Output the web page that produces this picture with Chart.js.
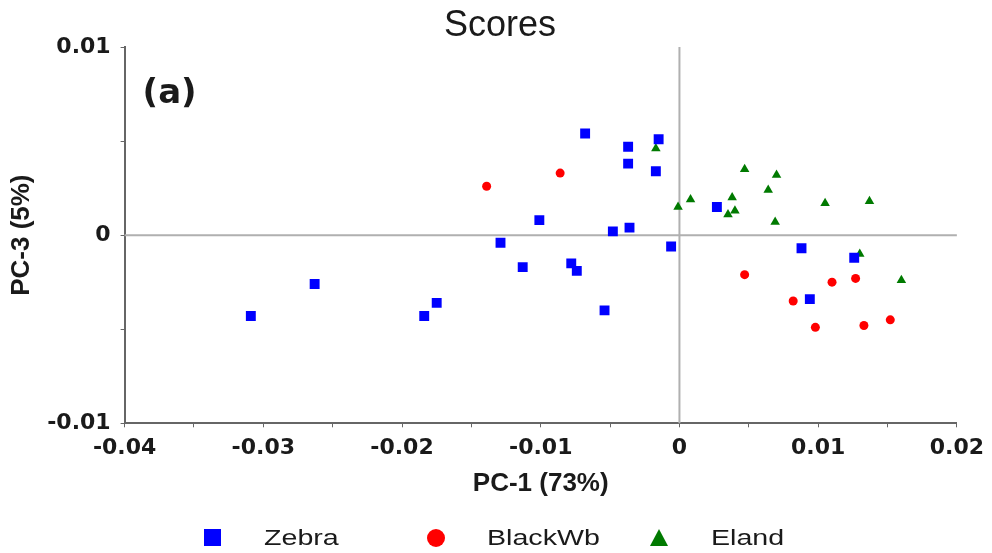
<!DOCTYPE html>
<html>
<head>
<meta charset="utf-8">
<script src="https://cdn.jsdelivr.net/npm/chart.js@4/dist/chart.umd.min.js"></script>
<style>
  html, body { margin: 0; padding: 0; background: #fff; }
  #wrap { position: relative; width: 992px; height: 553px; }
  #legend { position: absolute; left: 0; top: 0; width: 992px; height: 553px; pointer-events: none;
            font-family: 'Liberation Sans', Arial, sans-serif; font-size: 22px; color: #1a1a1a; }
  #legend span { position: absolute; transform: scaleX(1.3); transform-origin: left center; line-height: 25px; }
  .mk { position: absolute; }
</style>
</head>
<body>
<div id="wrap">
  <canvas id="chart" width="992" height="553"></canvas>
  <div id="legend"></div>
</div>
<script>
// Data
const chartTitle = 'Scores';
const seriesNames = ['Zebra', 'BlackWb', 'Eland'];

const zebraX = [-0.0309, -0.0263, -0.0184, -0.0175, -0.0129, -0.0113, -0.0101, -0.0078, -0.0074, -0.0054,
                -0.0048, -0.0036, -0.0068, -0.0037, -0.0015, -0.0037, -0.0017, -0.0006, 0.0027, 0.0088, 0.0126, 0.0094];
const zebraY = [-0.0043, -0.0026, -0.0043, -0.0036, -0.0004, -0.0017, 0.0008, -0.0015, -0.0019, -0.0040,
                0.0002, 0.0004, 0.0054, 0.0047, 0.0051, 0.0038, 0.0034, -0.0006, 0.0015, -0.0007, -0.0012, -0.0034];

const blackX = [-0.0139, -0.0086, 0.0047, 0.0110, 0.0127, 0.0082, 0.0098, 0.0133, 0.0152];
const blackY = [0.0026, 0.0033, -0.0021, -0.0025, -0.0023, -0.0035, -0.0049, -0.0048, -0.0045];

const elandX = [-0.0017, 0.0047, 0.0070, 0.0064, 0.0008, -0.0001, 0.0038, 0.0035, 0.0040, 0.0069, 0.0105, 0.0137, 0.0130, 0.0160];
const elandY = [0.0046, 0.0035, 0.0032, 0.0024, 0.0019, 0.0015, 0.0020, 0.0011, 0.0013, 0.0007, 0.0017, 0.0018, -0.0010, -0.0024];

const xTickLabels = [-0.04, -0.03, -0.02, -0.01, 0, 0.01, 0.02];
const yTickLabels = [-0.01, 0, 0.01];

const FONT = "'Liberation Sans', Arial, sans-serif";
const TICK_FONT = "'DejaVu Sans', sans-serif";

function toPoints(xs, ys) {
  return xs.map((x, i) => ({ x: x, y: ys[i] }));
}

function tickText(list) {
  return function (value) {
    const hit = list.find(t => Math.abs(t - value) < 1e-9);
    return hit === undefined ? '' : String(hit);
  };
}

// zero cross lines, the title and the "(a)" panel label
const panelLabel = {
  id: 'panelLabel',
  beforeDatasetsDraw(chart) {
    const { ctx, chartArea, scales } = chart;
    const x0 = scales.x.getPixelForValue(0);
    const y0 = scales.y.getPixelForValue(0);
    ctx.save();
    ctx.strokeStyle = '#b0b0b0';
    ctx.lineWidth = 2;
    ctx.beginPath();
    ctx.moveTo(x0, chartArea.top);
    ctx.lineTo(x0, chartArea.bottom);
    ctx.moveTo(chartArea.left, y0);
    ctx.lineTo(chartArea.right, y0);
    ctx.stroke();
    ctx.restore();
  },
  afterDraw(chart) {
    const { ctx, chartArea } = chart;
    ctx.save();
    ctx.fillStyle = '#1a1a1a';
    ctx.textBaseline = 'middle';
    ctx.font = "bold 34px 'DejaVu Sans', sans-serif";
    ctx.fillText('(a)', chartArea.left + 18, chartArea.top + 47);
    ctx.font = "36px " + FONT;
    ctx.textAlign = 'center';
    ctx.fillText(chartTitle, 500, 26);
    ctx.restore();
  }
};

const ctx = document.getElementById('chart').getContext('2d');
const chart = new Chart(ctx, {
  type: 'scatter',
  data: {
    datasets: [
      {
        label: seriesNames[0],
        data: toPoints(zebraX, zebraY),
        pointStyle: 'rect',
        pointRadius: 7,
        backgroundColor: '#0000ff',
        borderColor: '#0000ff',
        borderWidth: 0
      },
      {
        label: seriesNames[1],
        data: toPoints(blackX, blackY),
        pointStyle: 'circle',
        pointRadius: 4.5,
        backgroundColor: '#ff0000',
        borderColor: '#ff0000',
        borderWidth: 0
      },
      {
        label: seriesNames[2],
        data: toPoints(elandX, elandY),
        pointStyle: 'triangle',
        pointRadius: 5.5,
        backgroundColor: '#007a00',
        borderColor: '#007a00',
        borderWidth: 0
      }
    ]
  },
  options: {
    responsive: false,
    animation: false,
    layout: { padding: { left: 6, right: 34, top: 47, bottom: 56 } },
    plugins: {
      legend: { display: false },
      tooltip: { enabled: false },
      title: { display: false }
    },
    scales: {
      x: {
        type: 'linear',
        min: -0.04,
        max: 0.02,
        border: { display: true, color: '#666', width: 2 },
        grid: { drawOnChartArea: false, drawTicks: true, tickLength: 4, tickColor: '#666' },
        ticks: {
          stepSize: 0.005,
          autoSkip: false,
          maxRotation: 0,
          padding: 8,
          color: '#1a1a1a',
          font: { family: TICK_FONT, size: 22, weight: 'bold' },
          callback: tickText(xTickLabels)
        },
        title: {
          display: true,
          text: 'PC-1 (73%)',
          color: '#1a1a1a',
          font: { family: FONT, size: 26, weight: 'bold', lineHeight: 1.05 },
          padding: { top: 0, bottom: 0 }
        }
      },
      y: {
        type: 'linear',
        min: -0.01,
        max: 0.01,
        border: { display: true, color: '#666', width: 2 },
        grid: { drawOnChartArea: false, drawTicks: true, tickLength: 4, tickColor: '#666' },
        ticks: {
          stepSize: 0.005,
          autoSkip: false,
          padding: 10,
          color: '#1a1a1a',
          font: { family: TICK_FONT, size: 22, weight: 'bold' },
          callback: tickText(yTickLabels)
        },
        title: {
          display: true,
          text: 'PC-3 (5%)',
          color: '#1a1a1a',
          font: { family: FONT, size: 26, weight: 'bold' },
          padding: { top: 0, bottom: 0 }
        }
      }
    }
  },
  plugins: [panelLabel]
});

// Legend below the axis title
const legendEl = document.getElementById('legend');
const legendItems = [
  { name: seriesNames[0], markX: 204, textX: 264, html: '<div class="mk" style="width:17px;height:17px;background:#0000ff;"></div>' },
  { name: seriesNames[1], markX: 427, textX: 487, html: '<div class="mk" style="width:18px;height:18px;border-radius:50%;background:#ff0000;"></div>' },
  { name: seriesNames[2], markX: 650, textX: 711, html: '<div class="mk" style="width:0;height:0;border-left:9px solid transparent;border-right:9px solid transparent;border-bottom:17px solid #007a00;"></div>' }
];
legendItems.forEach(item => {
  const m = document.createElement('div');
  m.innerHTML = item.html;
  m.firstChild.style.left = item.markX + 'px';
  m.firstChild.style.top = '529px';
  legendEl.appendChild(m.firstChild);
  const t = document.createElement('span');
  t.textContent = item.name;
  t.style.left = item.textX + 'px';
  t.style.top = '525px';
  legendEl.appendChild(t);
});
</script>
</body>
</html>
